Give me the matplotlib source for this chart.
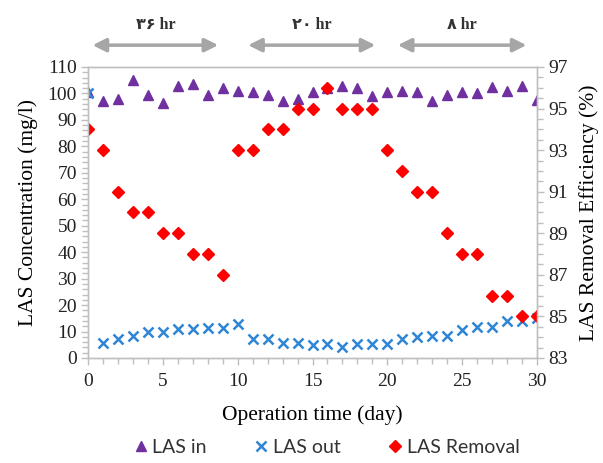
import matplotlib
matplotlib.use("Agg")
import matplotlib.pyplot as plt
from matplotlib.ticker import MultipleLocator, FixedLocator

days = list(range(0, 31))
las_in = [100.5, 97, 98, 105, 99.5, 96.5, 103, 103.5, 99.5, 102, 101, 100.5, 99.5, 97, 98, 100.5,
          102, 103, 102, 99, 100.5, 101, 100.5, 97, 99.5, 100.5, 100, 102.5, 101, 103, 97.5]
las_out = [100, 5.5, 7, 8.5, 10, 10, 11, 11, 11.5, 11.5, 13, 7, 7, 5.8, 5.7, 5,
           5.3, 4.3, 5.3, 5.3, 5.3, 7.2, 7.8, 8.5, 8.5, 10.6, 11.6, 11.6, 13.9, 13.9, 15]
las_removal = [94, 93, 91, 90, 90, 89, 89, 88, 88, 87, 93, 93, 94, 94, 95, 95,
               96, 95, 95, 95, 93, 92, 91, 91, 89, 88, 88, 86, 86, 85, 85]

phase_labels = ["۳۶ hr", "۲۰ hr", "۸ hr"]
phase_spans = [(0.3, 8.7), (10.7, 19.2), (20.7, 29.3)]
right_ticks = [83, 85, 87, 89, 91, 93, 95, 97]

serif = ["Liberation Serif", "DejaVu Sans"]
plt.rcParams["font.family"] = serif
grey = "#BFBFBF"

fig = plt.figure(figsize=(6.03, 4.63), dpi=100)
ax = fig.add_axes([0.146, 0.2268, 0.7445, 0.6285])
ax2 = ax.twinx()

h1, = ax.plot(days, las_in, linestyle="none", marker="^", color="#7030A0", markersize=7,
              label="LAS in")
h2, = ax.plot(days, las_out, linestyle="none", marker="x", color="#2F86D6", markersize=7,
              markeredgewidth=1.8, label="LAS out")
h3, = ax2.plot(days, las_removal, linestyle="none", marker="D", color="#FF0000", markersize=6,
               label="LAS Removal")

ax.set_xlim(0, 30)
ax.set_ylim(0, 110)
ax2.set_ylim(83, 97)

ax.xaxis.set_major_locator(MultipleLocator(5))
ax.xaxis.set_minor_locator(MultipleLocator(1))
ax.yaxis.set_major_locator(MultipleLocator(10))
ax.yaxis.set_minor_locator(MultipleLocator(2))
ax2.yaxis.set_major_locator(FixedLocator(right_ticks))
ax2.yaxis.set_minor_locator(MultipleLocator(0.5))

for a in (ax, ax2):
    for s in a.spines.values():
        s.set_color(grey)
        s.set_linewidth(1.0)
    a.tick_params(which="both", color=grey, direction="out", width=1.0,
                  labelsize=14, labelcolor="#222222")
    a.tick_params(which="major", length=5)
    a.tick_params(which="minor", length=4)

ax.tick_params(axis="x", which="major", pad=6)
ax.tick_params(axis="y", which="major", pad=3)
ax2.tick_params(axis="y", which="major", pad=3)

ax.set_xlabel("Operation time (day)", fontsize=15.5, labelpad=11)
ax.set_ylabel("LAS Concentration (mg/l)", fontsize=15.5, labelpad=7)
ax2.set_ylabel("LAS Removal Efficiency (%)", fontsize=15.5, labelpad=8)

# phase arrows above the plot
for (x0, x1), lab in zip(phase_spans, phase_labels):
    ax.annotate("", xy=(x0, 1.075), xytext=(x1, 1.075), xycoords=("data", "axes fraction"),
                textcoords=("data", "axes fraction"), annotation_clip=False,
                arrowprops=dict(arrowstyle="<|-|>", color="#A6A6A6", lw=2.5,
                                mutation_scale=20, shrinkA=0, shrinkB=0))
    ax.text((x0 + x1) / 2, 1.145, lab, transform=ax.get_xaxis_transform(),
            ha="center", va="center", fontsize=11.5, fontweight="bold", color="#333333")

leg = fig.legend(handles=[h1, h2, h3], loc="lower center", bbox_to_anchor=(0.541, -0.022),
                 ncol=3, frameon=False, columnspacing=2.4, handletextpad=0.2, handlelength=0.8,
                 prop={"family": "Lato", "size": 14})
for t in leg.get_texts():
    t.set_color("#333333")

fig.savefig("out.png", dpi=100)
